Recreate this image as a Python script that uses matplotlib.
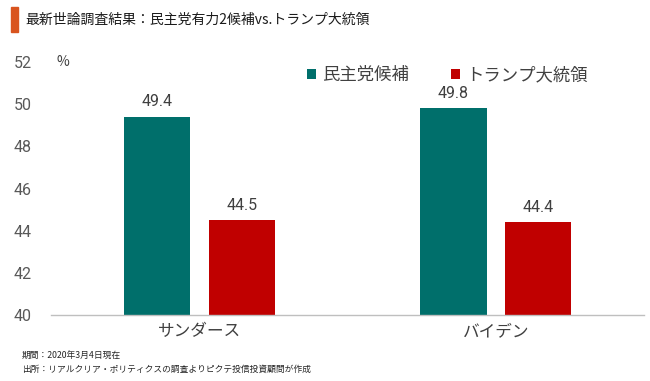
import matplotlib
matplotlib.use("Agg")
import matplotlib.pyplot as plt
from matplotlib.patches import Rectangle
import numpy as np

plt.rcParams['font.family'] = ['Noto Sans CJK JP', 'DejaVu Sans']

categories = ["サンダース", "バイデン"]
series_names = ["民主党候補", "トランプ大統領"]
dem_values = [49.4, 49.8]
trump_values = [44.5, 44.4]
yticks = [40, 42, 44, 46, 48, 50, 52]
title = "最新世論調査結果：民主党有力2候補vs.トランプ大統領"
notes = ["期間：2020年3月4日現在", "出所：リアルクリア・ポリティクスの調査よりピクテ投信投資顧問が作成"]

teal = "#006F6B"
red = "#C00000"
txt = "#404040"

fig = plt.figure(figsize=(6.5, 3.81), dpi=100)
ax = fig.add_axes([0.0785, 0.1732, 0.9125, 0.664])

x = np.arange(len(categories))
w = 0.223
off = 0.143
ax.bar(x - off, np.array(dem_values) - 40, w, bottom=40, color=teal, label=series_names[0])
ax.bar(x + off, np.array(trump_values) - 40, w, bottom=40, color=red, label=series_names[1])
for xi, v in zip(x - off, dem_values):
    ax.text(xi, v + 0.35, f"{v:.1f}", ha='center', va='bottom', fontsize=11.5, color=txt, family='Roboto')
for xi, v in zip(x + off, trump_values):
    ax.text(xi, v + 0.35, f"{v:.1f}", ha='center', va='bottom', fontsize=11.5, color=txt, family='Roboto')

ax.set_xlim(-0.5, 1.5)
ax.set_ylim(40, 52)
ax.set_yticks(yticks)
ax.set_yticklabels([str(t) for t in yticks], family='Roboto', fontsize=11.5, color='#595959')
ax.set_xticks(x)
ax.set_xticklabels(categories, fontsize=12, color=txt)
ax.tick_params(axis='x', length=0, pad=6)
ax.tick_params(axis='y', length=0, pad=14)
for s in ['top', 'right', 'left']:
    ax.spines[s].set_visible(False)
ax.spines['bottom'].set_color('#BFBFBF')
ax.spines['bottom'].set_linewidth(1)

ax.text(0.009, 1.0, "%", transform=ax.transAxes, fontsize=10, color=txt, va='center', ha='left')

ax.legend(loc='upper left', bbox_to_anchor=(0.405, 1.045), ncol=2, frameon=False,
          fontsize=12.5, handlelength=0.5, handleheight=0.5, handletextpad=0.4,
          columnspacing=2.4, labelcolor=txt)

fig.patches.append(Rectangle((11/650, 1 - 32/381), 7/650, 25/381, transform=fig.transFigure,
                             color="#D9541E", figure=fig))
fig.text(25/650, 1 - 20/381, title, fontsize=10, color='#1a1a1a', va='center', ha='left')
fig.text(22/650, 1 - 355/381, notes[0], fontsize=6.3, color='#262626', va='center', ha='left')
fig.text(22/650, 1 - 369/381, notes[1], fontsize=6.3, color='#262626', va='center', ha='left')

fig.savefig("out.png", dpi=100)
